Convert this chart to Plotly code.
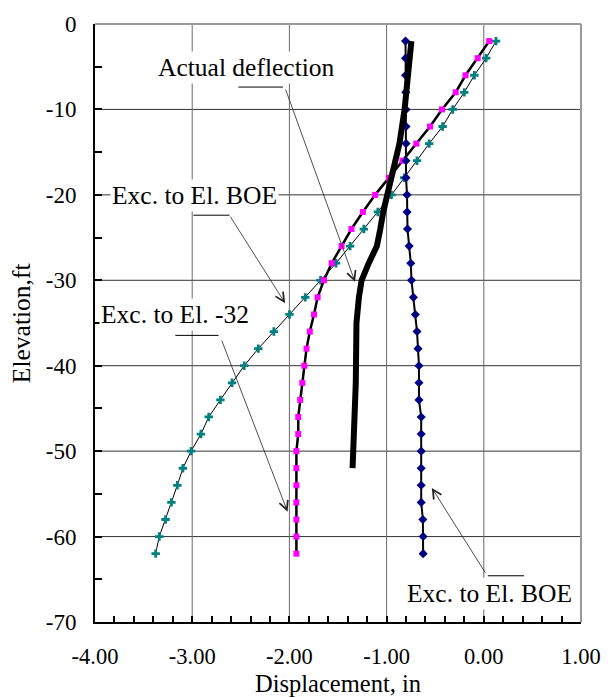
import plotly.graph_objects as go

# ---------------- data ----------------
elev = [-2, -4, -6, -8, -10, -12, -14, -16, -18, -20, -22, -24, -26, -28, -30, -32,
        -34, -36, -38, -40, -42, -44, -46, -48, -50, -52, -54, -56, -58, -60, -62]

# Exc. to El. BOE (final, navy diamonds)
boe_final = [-0.805, -0.805, -0.805, -0.803, -0.800, -0.800, -0.800, -0.800, -0.800, -0.790,
             -0.789, -0.785, -0.768, -0.751, -0.744, -0.724, -0.704, -0.687, -0.677, -0.667,
             -0.667, -0.667, -0.644, -0.644, -0.644, -0.644, -0.644, -0.644, -0.627, -0.624, -0.624]

# Exc. to El. BOE (predicted, teal crosses)
boe_pred = [0.126, 0.024, -0.097, -0.201, -0.320, -0.424, -0.562, -0.687, -0.818, -0.950,
            -1.090, -1.234, -1.376, -1.520, -1.679, -1.837, -1.999, -2.160, -2.320, -2.465,
            -2.590, -2.710, -2.830, -2.910, -3.011, -3.096, -3.153, -3.214, -3.274, -3.339, -3.376]

# Exc. to El. -32 (magenta squares)
exc32 = [0.056, -0.063, -0.188, -0.289, -0.430, -0.553, -0.694, -0.836, -0.977, -1.118,
         -1.244, -1.362, -1.463, -1.565, -1.645, -1.710, -1.747, -1.790, -1.824, -1.847,
         -1.867, -1.889, -1.909, -1.909, -1.928, -1.928, -1.928, -1.928, -1.928, -1.928, -1.928]

# Actual deflection (thick black line)
act_elev = [-2, -6, -10, -14, -18, -20, -22, -24, -26, -28, -30, -32, -35, -42, -50, -52]
act_disp = [-0.745, -0.778, -0.815, -0.868, -0.950, -1.005, -1.035, -1.065, -1.100, -1.184,
            -1.257, -1.285, -1.310, -1.317, -1.335, -1.350]

x_ticks = [-4, -3, -2, -1, 0, 1]
x_ticktext = ["-4.00", "-3.00", "-2.00", "-1.00", "0.00", "1.00"]
y_ticks = [0, -10, -20, -30, -40, -50, -60, -70]
y_ticktext = ["0", "-10", "-20", "-30", "-40", "-50", "-60", "-70"]

FONT = "Liberation Serif"

fig = go.Figure()

fig.add_trace(go.Scatter(x=boe_pred, y=elev, mode="lines+markers",
                         line=dict(color="black", width=1),
                         marker=dict(symbol="cross", size=7, color="#008080"),
                         name="Exc. to El. BOE (pred)"))
fig.add_trace(go.Scatter(x=exc32, y=elev, mode="lines+markers",
                         line=dict(color="black", width=2.5),
                         marker=dict(symbol="square", size=6, color="#FF00FF"),
                         name="Exc. to El. -32"))
fig.add_trace(go.Scatter(x=boe_final, y=elev, mode="lines+markers",
                         line=dict(color="black", width=2),
                         marker=dict(symbol="diamond", size=7, color="#000080"),
                         name="Exc. to El. BOE"))
fig.add_trace(go.Scatter(x=act_disp, y=act_elev, mode="lines",
                         line=dict(color="black", width=6),
                         name="Actual deflection"))

shapes = []
# gridlines
for yv in y_ticks[1:-1]:
    shapes.append(dict(type="line", xref="x domain", yref="y", x0=0, x1=1, y0=yv, y1=yv,
                       line=dict(color="#333333", width=1), layer="below"))
for xv in x_ticks[1:-1]:
    shapes.append(dict(type="line", xref="x", yref="y domain", x0=xv, x1=xv, y0=0, y1=1,
                       line=dict(color="#6a6a6a", width=1), layer="below"))
# top & right border (grey)
shapes.append(dict(type="line", xref="x domain", yref="y domain", x0=0, x1=1, y0=1, y1=1,
                   line=dict(color="#9a9a9a", width=2)))
shapes.append(dict(type="line", xref="x domain", yref="y domain", x0=1, x1=1, y0=0, y1=1,
                   line=dict(color="#9a9a9a", width=2)))

# leader bars
bars = [(-2.525, -2.067, -7.38), (-2.988, -2.617, -22.38), (-3.173, -2.729, -36.45), (0.041, 0.413, -64.59)]
for x0, x1, yv in bars:
    shapes.append(dict(type="line", xref="x", yref="y", x0=x0, x1=x1, y0=yv, y1=yv,
                       line=dict(color="black", width=1)))

annotations = []
# arrows (tail -> tip)
arrows = [((-2.044, -7.5), (-1.325, -30.18)),
          ((-2.617, -22.38), (-2.044, -32.68)),
          ((-2.701, -36.9), (-2.019, -57.09)),
          ((0.025, -64.4), (-0.535, -54.3))]
for (tx, ty), (hx, hy) in arrows:
    annotations.append(dict(x=hx, y=hy, ax=tx, ay=ty, xref="x", yref="y", axref="x", ayref="y",
                            text="", showarrow=True, arrowhead=5, arrowsize=2.2, arrowwidth=0.8,
                            arrowcolor="#222222", standoff=0))

labels = [("Actual deflection", -2.441, -5.11),
          ("Exc. to El. BOE", -2.976, -20.1),
          ("Exc. to El. -32", -3.179, -34.03),
          ("Exc. to El. BOE", 0.054, -66.7)]
for t, xv, yv in labels:
    annotations.append(dict(x=xv, y=yv, xref="x", yref="y", text=t, showarrow=False,
                            font=dict(family=FONT, size=25.5, color="black"),
                            bgcolor="white", borderpad=1, xanchor="center", yanchor="middle"))

# axis titles
annotations.append(dict(x=0.5, y=-0.1022, xref="paper", yref="paper", text="Displacement, in",
                        showarrow=False, font=dict(family=FONT, size=24.5, color="black"),
                        xanchor="center", yanchor="middle"))
annotations.append(dict(x=-0.152, y=0.5, xref="paper", yref="paper", text="Elevation,ft",
                        showarrow=False, textangle=-90, font=dict(family=FONT, size=25.5, color="black"),
                        xanchor="center", yanchor="middle"))

fig.update_layout(
    width=613, height=698,
    margin=dict(l=95, r=24, t=15, b=76),
    paper_bgcolor="white", plot_bgcolor="white",
    showlegend=False,
    shapes=shapes, annotations=annotations,
    font=dict(family=FONT, color="black"),
)
fig.update_xaxes(range=[-4, 1], tickvals=x_ticks, ticktext=x_ticktext,
                 showgrid=False, zeroline=False,
                 showline=True, linecolor="black", linewidth=2,
                 ticks="inside", ticklen=6, tickcolor="black", tickwidth=1.5,
                 minor=dict(dtick=0.2, ticks="inside", ticklen=6, tickcolor="black", tickwidth=1.5, showgrid=False),
                 tickfont=dict(family=FONT, size=22.5, color="black"),
                 ticklabelstandoff=13)
fig.update_yaxes(range=[-70, 0], tickvals=y_ticks, ticktext=y_ticktext,
                 showgrid=False, zeroline=False,
                 showline=True, linecolor="black", linewidth=2,
                 ticks="inside", ticklen=7, tickcolor="black", tickwidth=1.5,
                 minor=dict(dtick=5, ticks="inside", ticklen=7, tickcolor="black", tickwidth=1.5, showgrid=False),
                 tickfont=dict(family=FONT, size=23, color="black"),
                 ticklabelstandoff=12)

fig.write_html("out.html")
